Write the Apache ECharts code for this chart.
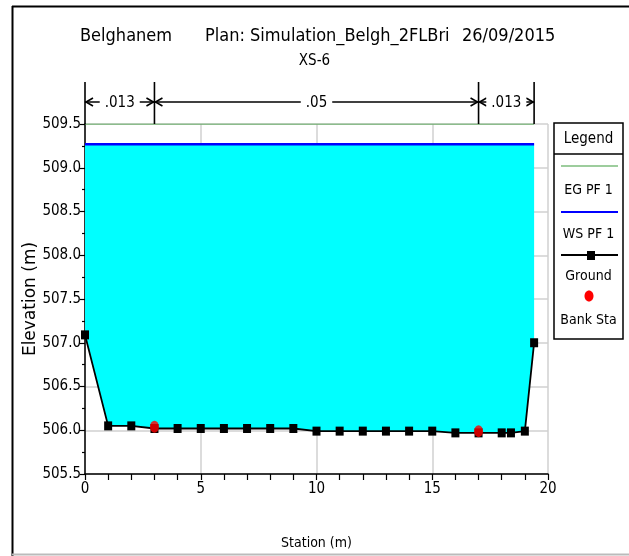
<!DOCTYPE html>
<html><head><meta charset="utf-8">
<script src="https://cdn.jsdelivr.net/npm/echarts@6/dist/echarts.min.js"></script>
<style>html,body{margin:0;padding:0;background:#fff}#c{width:629px;height:556px}</style>
</head><body><div id="c"></div>
<script>
// ---- data ----
const stations   = [0, 1, 2, 3, 4, 5, 6, 7, 8, 9, 10, 11, 12, 13, 14, 15, 16, 17, 18, 18.4, 19, 19.4];
const groundElev = [507.09, 506.05, 506.05, 506.02, 506.02, 506.02, 506.02, 506.02, 506.02, 506.02,
                    505.99, 505.99, 505.99, 505.99, 505.99, 505.99, 505.97, 505.97, 505.97, 505.97, 505.99, 507.0];
const bankStations = [3, 17];
const bankElev     = [506.04, 505.99];
const wsElev  = 509.27;   // WS PF 1
const egElev  = 509.5;    // EG PF 1
const waterExtent = [0, 19.4];
const nBreaks = [0, 3, 17, 19.4];
const nValues = ['.013', '.05', '.013'];
const titleParts = ['Belghanem', 'Plan: Simulation_Belgh_2FLBri', '26/09/2015'];
const subTitle = 'XS-6';
const legendItems = ['EG PF 1', 'WS PF 1', 'Ground', 'Bank Sta'];

const NF = "'Liberation Sans Narrow','Arial Narrow','DejaVu Sans Condensed',sans-serif";
const chart = echarts.init(document.getElementById('c'), null, {renderer: 'canvas'});

const ground = stations.map((s, i) => [s, groundElev[i]]);
const banks = bankStations.map((s, i) => [s, bankElev[i]]);

const option = {
  animation: false,
  backgroundColor: '#fff',
  title: [
    {text: titleParts[0], left: 80, top: 27, padding: 0, textStyle: {fontFamily: NF, fontSize: 18, fontWeight: 'normal', color: '#000'}},
    {text: titleParts[1], left: 205, top: 27, padding: 0, textStyle: {fontFamily: NF, fontSize: 18, fontWeight: 'normal', color: '#000'}},
    {text: titleParts[2], left: 462, top: 27, padding: 0, textStyle: {fontFamily: NF, fontSize: 18, fontWeight: 'normal', color: '#000'}},
    {text: subTitle, left: 'center', top: 54, padding: 0, textStyle: {fontFamily: NF, fontSize: 15, fontWeight: 'normal', color: '#000'}}
  ],
  grid: {left: 85, top: 124, width: 463, height: 350, containLabel: false},
  xAxis: {
    type: 'value', min: 0, max: 20, interval: 5,
    axisLine: {lineStyle: {color: '#000', width: 1.5}},
    axisTick: {length: 6, lineStyle: {color: '#000', width: 1.2}},
    minorTick: {show: true, splitNumber: 5, length: 6, lineStyle: {color: '#000', width: 1.2}},
    splitLine: {show: true, lineStyle: {color: '#d0d0d0', width: 1.5}},
    axisLabel: {fontFamily: NF, fontSize: 15, color: '#000', margin: 8},
    name: 'Station (m)', nameLocation: 'middle', nameGap: 62, nameMoveOverlap: false,
    nameTextStyle: {fontFamily: NF, fontSize: 14, color: '#000'}
  },
  yAxis: {
    type: 'value', min: 505.5, max: 509.5, interval: 0.5,
    axisLine: {show: true, lineStyle: {color: '#000', width: 1.5}},
    axisTick: {show: true, length: 5, lineStyle: {color: '#000', width: 1.2}},
    minorTick: {show: true, splitNumber: 2, length: 3, lineStyle: {color: '#000', width: 1.2}},
    splitLine: {show: true, lineStyle: {color: '#d0d0d0', width: 1.5}},
    axisLabel: {fontFamily: NF, fontSize: 15, color: '#000', margin: 4, formatter: v => v.toFixed(1)},
    name: 'Elevation (m)', nameLocation: 'middle', nameGap: 46, nameMoveOverlap: false,
    nameTextStyle: {fontFamily: "'DejaVu Sans',sans-serif", fontSize: 17, color: '#000'}
  },
  series: [
    {
      type: 'custom', name: 'water', z: 2, silent: true,
      data: [[waterExtent[0], wsElev]],
      renderItem: function (params, api) {
        const pts = [api.coord([waterExtent[0], wsElev]), api.coord([waterExtent[1], wsElev])];
        for (let i = stations.length - 1; i >= 0; i--) pts.push(api.coord([stations[i], groundElev[i]]));
        return {type: 'polygon', shape: {points: pts}, style: {fill: '#00ffff'}};
      }
    },
    {
      type: 'line', name: legendItems[0], z: 3, symbol: 'none',
      data: [[waterExtent[0], egElev], [waterExtent[1], egElev]],
      lineStyle: {color: '#3c9c3c', width: 1.2}
    },
    {
      type: 'line', name: legendItems[1], z: 4, symbol: 'none',
      data: [[waterExtent[0], wsElev], [waterExtent[1], wsElev]],
      lineStyle: {color: '#0000ff', width: 2.5}
    },
    {
      type: 'line', name: legendItems[2], z: 5, symbol: 'rect', symbolSize: [8, 9],
      data: ground,
      lineStyle: {color: '#000', width: 1.8},
      itemStyle: {color: '#000'}
    },
    {
      type: 'scatter', name: legendItems[3], z: 6, symbol: 'circle', symbolSize: [9, 12],
      data: banks,
      itemStyle: {color: '#ff0000'}
    },
    {
      type: 'custom', name: 'roughness', z: 7, silent: true, clip: false,
      data: [[0, egElev]],
      renderItem: function (params, api) {
        const top = api.coord([0, 509.5])[1];
        const yL = top - 22, yT = top - 42;
        const xs = nBreaks.map(s => api.coord([s, 509.5])[0]);
        const ch = [];
        const st = {stroke: '#000', lineWidth: 1.6, fill: null};
        xs.forEach(x => ch.push({type: 'line', shape: {x1: x, y1: yT, x2: x, y2: top}, style: st}));
        for (let i = 0; i < nValues.length; i++) {
          const xa = xs[i], xb = xs[i + 1];
          ch.push({type: 'line', shape: {x1: xa, y1: yL, x2: xb, y2: yL}, style: st});
          ch.push({type: 'polyline', shape: {points: [[xa + 8, yL - 4], [xa + 1, yL], [xa + 8, yL + 4]]}, style: st});
          ch.push({type: 'polyline', shape: {points: [[xb - 8, yL - 4], [xb - 1, yL], [xb - 8, yL + 4]]}, style: st});
          ch.push({type: 'text', style: {text: nValues[i], x: (xa + xb) / 2, y: yL + 1, fill: '#000',
            fontFamily: NF, fontSize: 15, align: 'center', verticalAlign: 'middle',
            backgroundColor: '#fff', padding: [0, 5]}});
        }
        return {type: 'group', children: ch};
      }
    }
  ],
  graphic: [
    {type: 'line', shape: {x1: 12, y1: 6.5, x2: 629, y2: 6.5}, style: {stroke: '#000', lineWidth: 2}},
    {type: 'line', shape: {x1: 12.5, y1: 6, x2: 12.5, y2: 556}, style: {stroke: '#000', lineWidth: 2}},
    {type: 'line', shape: {x1: 12, y1: 554.5, x2: 629, y2: 554.5}, style: {stroke: '#bbb', lineWidth: 2}},
    {type: 'rect', shape: {x: 554, y: 123, width: 69, height: 216}, style: {fill: '#fff', stroke: '#000', lineWidth: 1.5}},
    {type: 'line', shape: {x1: 554, y1: 154, x2: 623, y2: 154}, style: {stroke: '#000', lineWidth: 1.5}},
    {type: 'text', x: 588.5, y: 139, style: {text: 'Legend', fontFamily: NF, fontSize: 15, fill: '#000', align: 'center', verticalAlign: 'middle'}},
    {type: 'line', shape: {x1: 561, y1: 166, x2: 618, y2: 166}, style: {stroke: '#3c9c3c', lineWidth: 1.2}},
    {type: 'text', x: 588.5, y: 190, style: {text: legendItems[0], fontFamily: NF, fontSize: 14, fill: '#000', align: 'center', verticalAlign: 'middle'}},
    {type: 'line', shape: {x1: 561, y1: 212, x2: 618, y2: 212}, style: {stroke: '#0000ff', lineWidth: 2}},
    {type: 'text', x: 588.5, y: 234, style: {text: legendItems[1], fontFamily: NF, fontSize: 14, fill: '#000', align: 'center', verticalAlign: 'middle'}},
    {type: 'line', shape: {x1: 561, y1: 255, x2: 618, y2: 255}, style: {stroke: '#000', lineWidth: 1.8}},
    {type: 'rect', shape: {x: 587, y: 251, width: 8, height: 9}, style: {fill: '#000'}},
    {type: 'text', x: 588.5, y: 276, style: {text: legendItems[2], fontFamily: NF, fontSize: 14, fill: '#000', align: 'center', verticalAlign: 'middle'}},
    {type: 'ellipse', shape: {cx: 589, cy: 296, rx: 4.5, ry: 5.5}, style: {fill: '#ff0000'}},
    {type: 'text', x: 588.5, y: 320, style: {text: legendItems[3], fontFamily: NF, fontSize: 14, fill: '#000', align: 'center', verticalAlign: 'middle'}}
  ]
};
chart.setOption(option);
</script>
</body></html>
